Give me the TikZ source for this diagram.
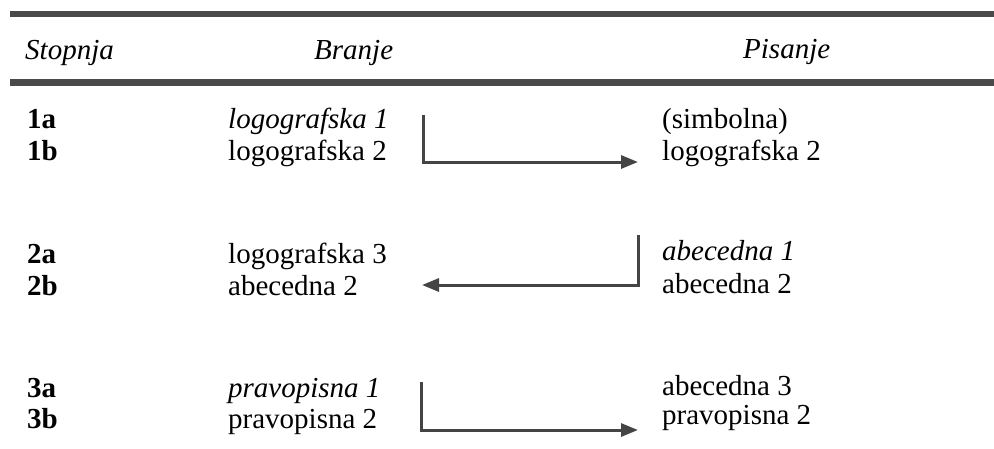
\documentclass[tikz,border=0pt]{standalone}
\usepackage{fontspec}
\setmainfont{Liberation Serif}
\usetikzlibrary{arrows.meta}
\definecolor{rulegray}{HTML}{4A4A4A}
\definecolor{arrowgray}{HTML}{444444}
\begin{document}
\begin{tikzpicture}[x=1pt,y=-1pt,
  txt/.style={anchor=base west, inner sep=0pt, font=\fontsize{29}{34}\selectfont},
  hdr/.style={anchor=base west, inner sep=0pt, font=\fontsize{29}{34}\selectfont\itshape},
  itx/.style={anchor=base west, inner sep=0pt, font=\fontsize{29}{34}\selectfont\itshape},
  num/.style={anchor=base west, inner sep=0pt, font=\fontsize{29}{34}\selectfont\bfseries},
  conn/.style={draw=arrowgray, line width=3pt, line join=miter, -{Triangle[length=17pt,width=13pt]}},
  rulebar/.style={fill=rulegray, draw=none}]
\useasboundingbox (0,0) rectangle (994,448);
% rules
\fill[rulebar] (10,11) rectangle (994,17);
\fill[rulebar] (10,79) rectangle (994,86);
% headers
\node[hdr] (hS) at (25,59) {Stopnja};
\node[hdr] (hB) at (314,59) {Branje};
\node[hdr] (hP) at (743,58) {Pisanje};
% stage numbers
\node[num] (n1a) at (27,128) {1a};
\node[num] (n1b) at (27,160) {1b};
\node[num] (n2a) at (27,263) {2a};
\node[num] (n2b) at (27,295) {2b};
\node[num] (n3a) at (27,397) {3a};
\node[num] (n3b) at (27,428) {3b};
% reading column
\node[itx] (b1a) at (228,128) {logografska 1};
\node[txt] (b1b) at (228,160) {logografska 2};
\node[txt] (b2a) at (228,263) {logografska 3};
\node[txt] (b2b) at (228,295) {abecedna 2};
\node[itx] (b3a) at (228,397) {pravopisna 1};
\node[txt] (b3b) at (228,428) {pravopisna 2};
% writing column
\node[txt] (p1a) at (662,128) {(simbolna)};
\node[txt] (p1b) at (662,160) {logografska 2};
\node[itx] (p2a) at (662,260) {abecedna 1};
\node[txt] (p2b) at (662,293) {abecedna 2};
\node[txt] (p3a) at (662,395) {abecedna 3};
\node[txt] (p3b) at (662,424) {pravopisna 2};
% connector points
\coordinate (c1s) at (423,115);
\coordinate (c1e) at (638,162);
\coordinate (c2s) at (638,235);
\coordinate (c2e) at (422,285);
\coordinate (c3s) at (421,382);
\coordinate (c3e) at (638,430);
% connectors
\draw[conn] (c1s) |- (c1e);
\draw[conn] (c2s) |- (c2e);
\draw[conn] (c3s) |- (c3e);
\end{tikzpicture}
\end{document}
